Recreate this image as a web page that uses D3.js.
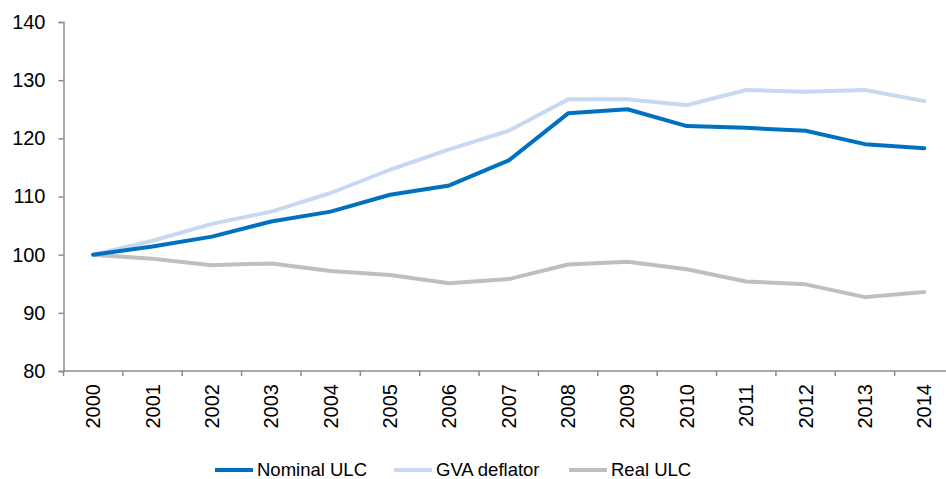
<!DOCTYPE html>
<html>
<head>
<meta charset="utf-8">
<script src="https://cdn.jsdelivr.net/npm/d3@7/dist/d3.min.js"></script>
<style>
  body { margin: 0; background: #fff; }
  svg { display: block; font-family: "Liberation Sans", Arial, sans-serif; }
</style>
</head>
<body>
<div id="chart"></div>
<script>
"use strict";
(function() {
  // data
  var years = ["2000", "2001", "2002", "2003", "2004", "2005", "2006", "2007",
               "2008", "2009", "2010", "2011", "2012", "2013", "2014"];
  var nominalUlc = [100, 101.4, 103.1, 105.7, 107.4, 110.3, 111.9, 116.2,
                    124.3, 125.0, 122.1, 121.8, 121.3, 119.0, 118.3];
  var gvaDeflator = [100, 102.4, 105.3, 107.4, 110.6, 114.6, 118.1, 121.3,
                     126.7, 126.7, 125.7, 128.3, 128.0, 128.3, 126.4];
  var realUlc = [100, 99.3, 98.2, 98.5, 97.2, 96.5, 95.1, 95.8,
                 98.3, 98.8, 97.5, 95.4, 94.9, 92.7, 93.6];
  var yTicks = [80, 90, 100, 110, 120, 130, 140];

  var series = [
    {name: "Nominal ULC", values: nominalUlc, color: "#0070c0"},
    {name: "GVA deflator", values: gvaDeflator, color: "#c6d9f1"},
    {name: "Real ULC", values: realUlc, color: "#bfbfbf"}
  ];

  var width = 946, height = 479;
  var axisColor = "#8c8c8c";

  var svg = d3.select("#chart").append("svg")
    .attr("width", width)
    .attr("height", height);

  var x = d3.scaleBand().domain(years).range([63.5, 954]);
  var y = d3.scaleLinear().domain([80, 140]).range([371, 22]);

  // y axis
  var yAxis = svg.append("g")
    .attr("transform", "translate(63.5,0)")
    .call(d3.axisLeft(y).tickValues(yTicks).tickSize(5).tickPadding(13));
  yAxis.select(".domain").attr("stroke", axisColor).attr("stroke-width", 1.5);
  yAxis.selectAll(".tick line").attr("stroke", axisColor).attr("stroke-width", 1.5);
  yAxis.selectAll(".tick text")
    .attr("fill", "#000")
    .style("font-size", "20px");

  // x axis
  var xAxis = svg.append("g")
    .attr("transform", "translate(0," + y(80) + ")");
  xAxis.append("line")
    .attr("x1", x.range()[0]).attr("x2", x.range()[1])
    .attr("stroke", axisColor).attr("stroke-width", 1.5);
  xAxis.selectAll(".xtick")
    .data(years)
    .enter()
    .append("line")
    .attr("class", "xtick")
    .attr("x1", function(d) { return x(d); })
    .attr("x2", function(d) { return x(d); })
    .attr("y1", 0).attr("y2", 5)
    .attr("stroke", axisColor).attr("stroke-width", 1.5);
  xAxis.selectAll(".xlabel")
    .data(years)
    .enter()
    .append("text")
    .attr("class", "xlabel")
    .attr("transform", function(d) {
      return "translate(" + (x(d) + x.bandwidth() / 2) + ",13) rotate(-90)";
    })
    .attr("text-anchor", "end")
    .attr("dy", "0.35em")
    .style("font-size", "20px")
    .text(function(d) { return d; });

  // lines
  var line = d3.line()
    .x(function(d, i) { return x(years[i]) + x.bandwidth() / 2; })
    .y(function(d) { return y(d); });

  // draw back to front: real, gva, nominal
  svg.selectAll(".series")
    .data(series.slice().reverse())
    .enter()
    .append("path")
    .attr("class", "series")
    .attr("d", function(d) { return line(d.values); })
    .attr("fill", "none")
    .attr("stroke", function(d) { return d.color; })
    .attr("stroke-width", 4)
    .attr("stroke-linejoin", "round")
    .attr("stroke-linecap", "round");

  // legend
  var legendX = [215, 394, 569];
  var legend = svg.selectAll(".legend")
    .data(series)
    .enter()
    .append("g")
    .attr("class", "legend")
    .attr("transform", function(d, i) { return "translate(" + legendX[i] + ",470)"; });
  legend.append("line")
    .attr("x1", 0).attr("x2", 38)
    .attr("stroke", function(d) { return d.color; })
    .attr("stroke-width", 4);
  legend.append("text")
    .attr("x", 42)
    .attr("dy", "0.35em")
    .style("font-size", "18.5px")
    .text(function(d) { return d.name; });
})();
</script>
</body>
</html>
